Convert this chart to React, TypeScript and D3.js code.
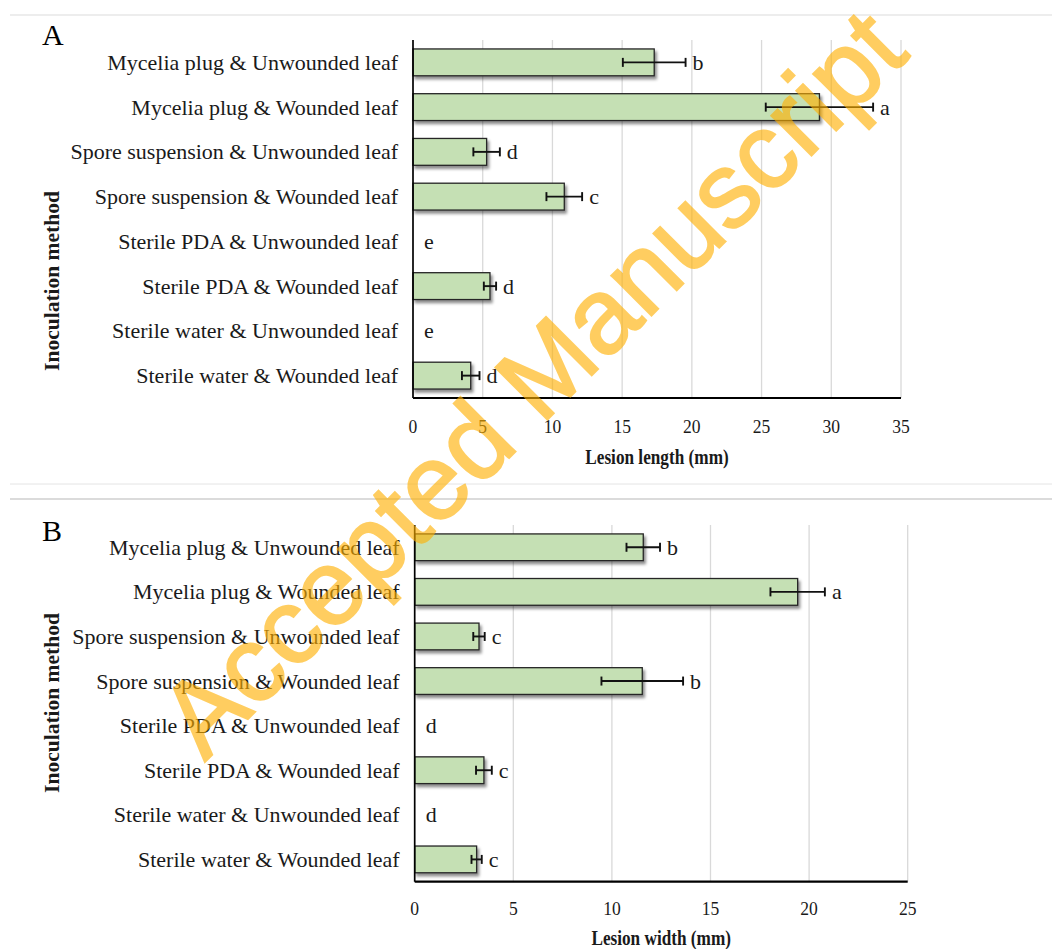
import React from "react";
import * as d3 from "d3";

const categories = [
  "Mycelia plug & Unwounded leaf",
  "Mycelia plug & Wounded leaf",
  "Spore suspension & Unwounded leaf",
  "Spore suspension & Wounded leaf",
  "Sterile PDA & Unwounded leaf",
  "Sterile PDA & Wounded leaf",
  "Sterile water & Unwounded leaf",
  "Sterile water & Wounded leaf",
];

const lengthMeans = [17.3, 29.15, 5.28, 10.85, 0, 5.52, 0, 4.14];
const lengthErrors = [2.25, 3.85, 0.95, 1.28, 0, 0.44, 0, 0.63];
const lengthLetters = ["b", "a", "d", "c", "e", "d", "e", "d"];
const lengthTicks = [0, 5, 10, 15, 20, 25, 30, 35];

const widthMeans = [11.59, 19.42, 3.26, 11.54, 0, 3.51, 0, 3.14];
const widthErrors = [0.85, 1.38, 0.29, 2.07, 0, 0.4, 0, 0.26];
const widthLetters = ["b", "a", "c", "b", "d", "c", "d", "c"];
const widthTicks = [0, 5, 10, 15, 20, 25];

const SERIF = "'Liberation Serif', 'Times New Roman', serif";

type PanelProps = {
  tag: string;
  means: number[];
  errors: number[];
  letters: string[];
  ticks: number[];
  xTitle: string;
  x0: number;
  x1: number;
  top: number;
  bottom: number;
  tagY: number;
  yTitleY: number;
  tickY: number;
  titleY: number;
};

function Panel(p: PanelProps) {
  const max = p.ticks[p.ticks.length - 1];
  const x = d3.scaleLinear().domain([0, max]).range([p.x0, p.x1]);
  const y = d3
    .scaleBand<string>()
    .domain(categories)
    .range([p.top, p.bottom])
    .paddingInner(0.4)
    .paddingOuter(0.2);
  const bw = y.bandwidth();
  return (
    <g>
      <text x={42} y={p.tagY} fontFamily={SERIF} fontSize={30} fill="#000">
        {p.tag}
      </text>
      {p.ticks
        .filter((t) => t > 0)
        .map((t) => (
          <line
            key={"g" + t}
            x1={x(t)}
            x2={x(t)}
            y1={p.top}
            y2={p.bottom}
            stroke="#d9d9d9"
            strokeWidth={1.3}
          />
        ))}
      {categories.map((c, i) => {
        const yc = (y(c) as number) + bw / 2;
        const v = p.means[i];
        const e = p.errors[i];
        const end = v > 0 ? x(v + e) : x(0);
        return (
          <g key={c}>
            <text
              x={p.x0 - 15}
              y={yc}
              textAnchor="end"
              dominantBaseline="central"
              fontFamily={SERIF}
              fontSize={22}
              fill="#1a1a1a"
            >
              {c}
            </text>
            {v > 0 && (
              <rect
                x={x(0)}
                y={y(c)}
                width={x(v) - x(0)}
                height={bw}
                fill="#c5e0b4"
                stroke="#262626"
                strokeWidth={1.3}
                filter="url(#barShadow)"
              />
            )}
            {v > 0 && (
              <g stroke="#111" strokeWidth={1.9}>
                <line x1={x(v - e)} x2={x(v + e)} y1={yc} y2={yc} />
                <line x1={x(v - e)} x2={x(v - e)} y1={yc - 4.5} y2={yc + 4.5} />
                <line x1={x(v + e)} x2={x(v + e)} y1={yc - 4.5} y2={yc + 4.5} />
              </g>
            )}
            <text
              x={end + (v > 0 ? 7 : 11)}
              y={yc}
              dominantBaseline="central"
              fontFamily={SERIF}
              fontSize={22}
              fill="#1a1a1a"
            >
              {p.letters[i]}
            </text>
          </g>
        );
      })}
      <line x1={p.x0} x2={p.x0} y1={p.top} y2={p.bottom} stroke="#000" strokeWidth={1.7} />
      <line x1={p.x0} x2={p.x1} y1={p.bottom} y2={p.bottom} stroke="#000" strokeWidth={2.2} />
      {p.ticks.map((t) => (
        <text
          key={"t" + t}
          transform={`translate(${x(t)},${p.tickY}) scale(0.9,1)`}
          textAnchor="middle"
          dominantBaseline="central"
          fontFamily={SERIF}
          fontSize={19.5}
          fill="#1a1a1a"
        >
          {t}
        </text>
      ))}
      <text
        transform={`translate(${(p.x0 + p.x1) / 2},${p.titleY}) scale(0.84,1)`}
        textAnchor="middle"
        dominantBaseline="central"
        fontFamily={SERIF}
        fontWeight="bold"
        fontSize={20.5}
        fill="#1a1a1a"
      >
        {p.xTitle}
      </text>
      <text
        transform={`translate(52,${p.yTitleY}) rotate(-90)`}
        textAnchor="middle"
        dominantBaseline="central"
        fontFamily={SERIF}
        fontWeight="bold"
        fontSize={21.5}
        fill="#1a1a1a"
      >
        Inoculation method
      </text>
    </g>
  );
}

export default function App() {
  return (
    <svg
      width={1052}
      height={949}
      style={{ position: "absolute", left: 0, top: 0, background: "#fff" }}
    >
      <defs>
        <filter id="barShadow" x="-5%" y="-20%" width="115%" height="160%">
          <feDropShadow dx={2} dy={3} stdDeviation={1.6} floodColor="#000" floodOpacity={0.45} />
        </filter>
      </defs>
      <rect x={0} y={0} width={1052} height={949} fill="#fff" />
      <line x1={10} x2={1052} y1={15} y2={15} stroke="#dcdcdc" strokeWidth={1.2} />
      <line x1={10} x2={1052} y1={484} y2={484} stroke="#e4e4e4" strokeWidth={1} />
      <line x1={10} x2={1052} y1={499} y2={499} stroke="#b8b8b8" strokeWidth={1.2} />
      <Panel
        tag="A"
        means={lengthMeans}
        errors={lengthErrors}
        letters={lengthLetters}
        ticks={lengthTicks}
        xTitle="Lesion length (mm)"
        x0={413}
        x1={901}
        top={40}
        bottom={398}
        tagY={45}
        yTitleY={281}
        tickY={426}
        titleY={457}
      />
      <Panel
        tag="B"
        means={widthMeans}
        errors={widthErrors}
        letters={widthLetters}
        ticks={widthTicks}
        xTitle="Lesion width (mm)"
        x0={414.7}
        x1={907.7}
        top={525}
        bottom={881.7}
        tagY={541}
        yTitleY={703}
        tickY={908}
        titleY={938}
      />
      <g opacity={0.62}>
        <text
          transform="translate(558,409) rotate(-45)"
          textAnchor="middle"
          fontFamily="'Liberation Sans', Arial, sans-serif"
          fontSize={107}
          fill="#ffb000"
          stroke="#ffb000"
          strokeWidth={2}
        >
          Accepted Manuscript
        </text>
      </g>
    </svg>
  );
}
